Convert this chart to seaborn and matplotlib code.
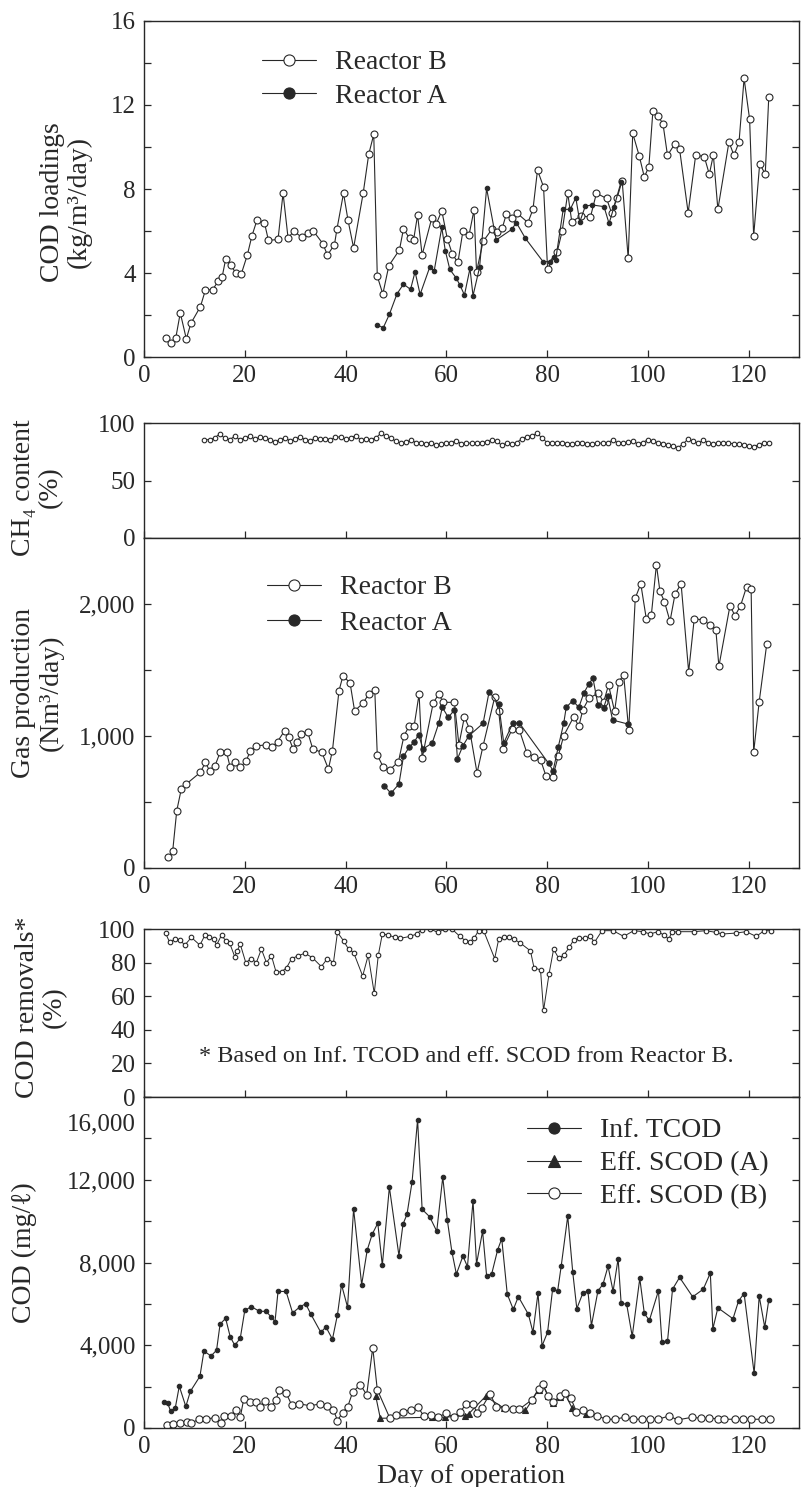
import matplotlib
matplotlib.use("Agg")
import matplotlib.pyplot as plt
import seaborn as sns
from matplotlib.transforms import ScaledTranslation

# ---------------- data ----------------
load_b_day = [4.3, 5.4, 6.3, 7.2, 8.4, 9.3, 11.2, 12.2, 13.6, 14.7, 15.5, 16.2, 17.2, 18.2, 19.3,
              20.5, 21.4, 22.4, 23.9, 24.7, 26.6, 27.6, 28.6, 29.7, 31.3, 32.5, 33.6, 35.5, 36.4, 37.8,
              38.3, 39.6, 40.5, 41.6, 43.5, 44.6, 45.6, 46.3, 47.4, 48.6, 50.7, 51.5, 52.7, 53.5, 54.3,
              55.2, 57.1, 58.0, 59.1, 60.2, 61.2, 62.3, 63.3, 64.5, 65.5, 66.0, 67.3, 69.1, 70.1, 71.1,
              71.9, 73.0, 74.1, 76.2, 77.2, 78.1, 79.3, 80.1, 82.0, 83.0, 84.1, 84.9, 86.8, 88.6, 89.8,
              91.8, 92.8, 93.9, 94.9, 96.1, 97.0, 98.3, 99.3, 100.2, 101.0, 102.0, 103.0, 103.9, 105.3,
              106.3, 108.0, 109.5, 111.2, 112.2, 113.0, 113.9, 116.1, 117.1, 118.1, 119.1, 120.2, 121.0,
              122.2, 123.3, 124.0]
load_b = [0.9, 0.67, 0.9, 2.1, 0.86, 1.6, 2.4, 3.2, 3.2, 3.6, 3.8, 4.65, 4.4, 4.0, 3.95,
          4.85, 5.75, 6.5, 6.4, 5.55, 5.6, 7.8, 5.65, 6.0, 5.7, 5.9, 6.0, 5.4, 4.85, 5.35,
          6.1, 7.8, 6.5, 5.2, 7.8, 9.65, 10.6, 3.85, 3.0, 4.35, 5.1, 6.1, 5.65, 5.57, 6.76,
          4.86, 6.6, 6.33, 6.97, 5.63, 4.9, 4.5, 6.0, 5.8, 7.0, 4.06, 5.5, 6.1, 5.94, 6.13,
          6.8, 6.6, 6.84, 6.4, 7.03, 8.9, 8.1, 4.2, 5.0, 6.0, 7.8, 6.45, 6.72, 6.66, 7.8,
          7.55, 6.87, 7.58, 8.4, 4.7, 10.65, 9.57, 8.57, 9.06, 11.71, 11.48, 11.11, 9.6, 10.13,
          9.89, 6.87, 9.62, 9.54, 8.7, 9.62, 7.03, 10.24, 9.6, 10.24, 13.27, 11.32, 5.76,
          9.21, 8.7, 12.38]

load_a_day = [46.2, 47.5, 48.7, 50.2, 51.5, 52.9, 53.8, 54.8, 56.7, 57.6, 59.1, 59.8, 60.7, 61.9,
              62.7, 63.6, 64.7, 65.3, 66.6, 68.0, 69.9, 73.0, 73.9, 75.7, 79.2, 80.5, 81.3, 81.7,
              83.2, 84.6, 85.7, 86.5, 87.6, 89.0, 91.3, 92.3, 93.3, 94.7]
load_a = [1.52, 1.4, 2.03, 3.0, 3.47, 3.22, 4.06, 2.98, 4.27, 4.11, 6.17, 5.06, 4.17, 3.78,
          3.43, 2.95, 4.22, 2.92, 4.27, 8.03, 5.57, 6.08, 6.4, 5.65, 4.54, 4.54, 4.78, 4.62,
          7.03, 7.03, 7.58, 6.44, 7.19, 7.24, 7.16, 6.36, 7.16, 8.35]

ch4_day = list(range(12, 125))
ch4 = [85.5, 85.5, 87, 90.5, 87, 85.5, 88.5, 85.5, 87, 88.5, 86, 87.5, 87, 85.5, 83.5, 85.5,
       87, 84.5, 86, 88, 85.5, 84.5, 87, 86, 86.5, 85.5, 87.5, 88, 86, 87, 89, 85.5, 86, 85.5,
       87, 91, 88.5, 87,
       84, 82.5, 83.5, 85, 83, 82.5, 82, 83, 80.5, 82, 82.5, 83, 84.5, 82, 82.5, 82.5, 82.5,
       83, 83.5, 85, 84.5, 80.5, 82.5, 81.5, 83, 86.5, 88, 89, 91, 87, 83, 82.5, 82.5, 83,
       82, 82, 82.5, 82.5, 82, 82, 82.5, 82.5, 83, 85, 83, 82.5, 83.5, 84, 82, 83, 85.5, 84,
       83, 82, 81, 80, 78.5, 82, 86, 84, 82.5, 85, 83, 81.5, 82.5, 83, 82.5, 82, 82, 81, 80,
       79.5, 81, 82.5, 82.5]

gas_b_day = [4.8, 5.7, 6.5, 7.4, 8.4, 11.2, 12.2, 13.0, 14.1, 15.1, 16.4, 17.1, 18.1, 19.1, 20.3,
             21.1, 22.3, 24.2, 25.4, 26.5, 27.9, 28.7, 29.6, 30.4, 31.2, 32.5, 33.5, 35.3, 36.6,
             37.4, 38.7, 39.5, 40.9, 41.8, 43.5, 44.6, 45.8, 46.3, 47.5, 48.8, 50.5, 51.6, 52.6,
             53.6, 54.6, 55.2, 57.4, 58.5, 59.4, 61.6, 62.5, 63.6, 64.6, 66.1, 67.3, 69.6, 70.4,
             71.2, 73.1, 74.5, 76.0, 77.4, 78.7, 79.8, 81.1, 82.2, 83.3, 85.3, 86.3, 87.1, 88.3,
             90.2, 91.2, 92.2, 93.4, 94.2, 95.2, 96.2, 97.5, 98.6, 99.7, 100.7, 101.7, 102.4,
             103.3, 104.4, 105.4, 106.6, 108.1, 109.2, 111.0, 112.3, 113.5, 114.1, 116.3, 117.3,
             118.4, 119.6, 120.5, 121.0, 122.1, 123.6]
gas_b = [80, 130, 434, 598, 636, 725, 801, 737, 775, 876, 876, 763, 801, 763, 813,
         888, 926, 932, 914, 957, 1040, 990, 902, 952, 1015, 1028, 902, 876, 750,
         889, 1343, 1457, 1401, 1190, 1250, 1318, 1351, 856, 763, 745, 805, 1002, 1073,
         1073, 1318, 831, 1250, 1318, 1255, 1255, 934, 1146, 1053, 720, 926, 1293, 1187,
         902, 1053, 1045, 871, 843, 820, 695, 686, 846, 1002, 1146, 1073, 1199, 1285,
         1326, 1255, 1386, 1187, 1411, 1462, 1045, 2045, 2152, 1886, 1919, 2298, 2096,
         2017, 1869, 2076, 2152, 1487, 1886, 1881, 1841, 1803, 1528, 1987, 1911,
         1987, 2131, 2114, 876, 1260, 1697]

gas_a_day = [47.7, 49.0, 50.6, 51.5, 52.6, 53.6, 54.5, 55.4, 57.2, 58.5, 59.2, 60.4, 61.6, 62.2,
             63.3, 64.5, 67.3, 68.5, 70.4, 71.4, 73.2, 74.5, 80.3, 81.2, 82.2, 83.3, 83.8, 85.1,
             86.3, 87.3, 88.3, 89.1, 90.1, 91.2, 92.0, 93.0, 96.0]
gas_a = [623, 566, 636, 846, 914, 952, 1010, 902, 947, 1096, 1217, 1141, 1197, 826,
         926, 1002, 1096, 1336, 1242, 947, 1098, 1098, 793, 737, 914, 1096, 1217, 1268,
         1217, 1326, 1394, 1439, 1235, 1210, 1306, 1121, 1091]

rem_day = [4.3, 5.1, 6.1, 7.1, 8.1, 9.4, 11.1, 12.1, 12.9, 13.9, 14.4, 15.4, 16.2, 17.0, 18.0,
           18.5, 19.1, 20.2, 21.3, 22.3, 23.3, 24.3, 25.3, 26.2, 27.3, 28.3, 29.3, 30.6, 31.9,
           33.4, 35.2, 36.4, 37.6, 38.4, 39.6, 40.6, 41.6, 43.4, 44.5, 45.7, 46.5, 47.3, 48.5,
           49.8, 50.8, 52.8, 54.1, 55.1, 56.8, 58.3, 59.8, 61.1, 62.7, 63.8, 64.7, 65.5, 66.4,
           67.4, 69.6, 70.4, 71.4, 72.4, 73.4, 74.7, 76.7, 77.4, 78.7, 79.3, 80.4, 81.3, 82.3,
           83.3, 84.4, 85.3, 86.3, 87.5, 88.6, 89.4, 90.9, 93.1, 95.2, 97.2, 99.1, 100.4, 102.0,
           103.2, 104.2, 104.7, 106.0, 109.2, 111.5, 113.5, 114.8, 117.5, 119.5, 121.5, 123.1,
           124.5]
rem = [97.4, 92, 94, 93.6, 90.4, 95, 90.4, 96.4, 95, 94, 90.4, 96.4, 93, 91.6, 83.6,
       87, 91, 80, 82.4, 80, 88, 80, 84, 74.5, 74.5, 77, 82.4, 84, 85.6,
       83, 77.6, 82.4, 80, 98, 93, 88, 86, 72, 84.4, 61.7, 84.4, 97, 96.4,
       95, 94.4, 95.6, 97, 99.6, 100, 98, 100, 100, 95.6, 93, 92.4, 94.4, 99,
       99, 82.4, 94, 95, 95, 94, 91.6, 87, 77, 75.6, 51.5, 73.5, 88, 82.6,
       84.4, 89, 93.6, 94.4, 94.4, 95.6, 92, 99, 99, 95.6, 99, 98.4, 97, 98.4,
       96.4, 94, 98, 98.4, 98.4, 99, 98, 97, 97.6, 98.4, 95.6, 99, 99]

inf_day = [4.0, 4.7, 5.3, 6.2, 7.0, 8.3, 9.2, 11.1, 11.9, 13.3, 14.4, 15.1, 16.2, 17.1, 18.0,
           19.1, 20.0, 21.3, 22.9, 24.2, 25.2, 26.0, 26.6, 28.2, 29.5, 31.0, 32.1, 33.1, 35.1,
           36.1, 37.4, 38.4, 39.2, 40.4, 41.6, 43.2, 44.3, 45.3, 46.4, 47.3, 48.7, 50.6, 51.4,
           52.2, 53.2, 54.3, 55.2, 56.7, 58.1, 59.3, 60.2, 61.1, 62.0, 63.3, 64.2, 65.3, 66.0,
           67.2, 68.0, 69.0, 70.2, 71.0, 72.1, 73.3, 74.3, 76.3, 77.2, 78.2, 79.0, 80.1, 81.1,
           82.1, 82.8, 84.1, 85.1, 85.9, 87.1, 88.1, 88.8, 90.1, 91.1, 92.1, 93.1, 94.1, 94.7,
           95.8, 96.9, 98.4, 99.3, 100.3, 102.1, 102.8, 103.9, 104.9, 106.3, 108.9, 111.0,
           112.4, 112.9, 113.9, 116.9, 118.0, 119.1, 121.1, 122.1, 123.2, 124.0]
inf_tcod = [1240, 1200, 800, 960, 2020, 1040, 1770, 2500, 3720, 3480, 3760, 5020, 5300, 4420, 4000,
            4330, 5680, 5870, 5640, 5640, 5380, 5140, 6600, 6600, 5560, 5870, 6000, 5510, 4620,
            4890, 4290, 5480, 6930, 5840, 10590, 6930, 8600, 9370, 9900, 7870, 11640, 8330, 9850,
            10330, 11890, 14900, 10570, 10210, 9510, 12130, 10050, 8530, 7440, 8310, 7800, 10980, 7930,
            9510, 7360, 7440, 8620, 9150, 6470, 5730, 6350, 5490, 4630, 6520, 3970, 4630, 6710,
            6630, 7820, 10240, 7520, 5770, 6520, 6630, 4950, 6630, 6950, 7820, 6610, 8180, 6030,
            5980, 4430, 7230, 5540, 5200, 6630, 4140, 4190, 6710, 7280, 6340, 6710,
            7490, 4790, 5810, 5280, 6140, 6500, 2640, 6380, 4870, 6190]

effb_day = [4.5, 5.8, 7.1, 8.5, 9.3, 10.9, 12.3, 14.0, 15.2, 15.9, 17.2, 18.2, 19.1, 19.8, 21.1,
            22.2, 23.0, 24.0, 25.2, 26.2, 26.8, 28.2, 29.3, 30.8, 33.0, 35.0, 36.3, 37.6, 38.4,
            39.4, 40.4, 41.4, 42.9, 44.2, 45.4, 46.3, 48.8, 50.1, 51.5, 52.9, 54.4, 55.5, 56.9,
            58.4, 59.9, 61.5, 62.8, 64.0, 65.3, 66.1, 67.0, 68.7, 69.9, 71.6, 73.3, 74.5, 77.0,
            78.3, 79.1, 80.2, 81.2, 82.5, 83.5, 84.7, 85.8, 87.1, 88.6, 90.0, 91.7, 93.4, 95.4,
            97.1, 98.8, 100.5, 102.1, 104.2, 105.9, 108.8, 110.5, 112.2, 113.9, 115.1, 117.2,
            118.8, 120.5, 122.6, 124.3]
eff_scod_b = [146, 179, 228, 309, 228, 423, 423, 504, 260, 602, 585, 878, 520, 1398, 1252,
              1252, 1008, 1285, 1008, 1366, 1821, 1691, 1122, 1171, 1073, 1171, 1041, 878, 358,
              748, 1008, 1724, 2098, 1610, 3886, 1854, 472, 634, 797, 878, 1008, 585, 634,
              520, 715, 520, 797, 1171, 1171, 715, 959, 1658, 1008, 959, 910, 910, 1366,
              1886, 2146, 1561, 1236, 1528, 1691, 1447, 797, 878, 715, 585, 423, 423, 520,
              423, 423, 423, 423, 585, 390, 520, 472, 472, 450, 423, 423,
              423, 423, 423, 423]

effa_day = [46.0, 46.9, 57.1, 59.7, 63.8, 64.5, 67.8, 71.5, 75.7, 77.0, 78.3, 79.1, 80.2, 81.2,
            82.5, 83.5, 85.0, 87.7]
eff_scod_a = [1530, 470, 520, 520, 600, 700, 1530, 950, 850, 1330, 1860, 2120, 1540, 1220,
              1510, 1670, 950, 700]

x_ticks = [0, 20, 40, 60, 80, 100, 120]

# ---------------- style ----------------
sns.set_style("ticks")
INK = "#282828"
plt.rcParams["font.family"] = ["Liberation Serif", "DejaVu Serif"]
plt.rcParams.update({
    "text.color": INK, "axes.labelcolor": INK, "xtick.color": INK, "ytick.color": INK,
    "axes.edgecolor": INK, "axes.linewidth": 1.0,
})

W, H = 801, 1487
fig = plt.figure(figsize=(W / 100, H / 100), dpi=100)


def add_ax(top, bottom, left=144, right=799):
    return fig.add_axes([left / W, 1 - bottom / H, (right - left) / W, (bottom - top) / H])


ax1 = add_ax(21, 357)
ax2 = add_ax(423, 538)
ax3 = add_ax(538, 868)
ax4 = add_ax(929, 1097)
ax5 = add_ax(1097, 1428)


def draw(ax, x, y, marker, filled, ms, label=None, lw=0.8):
    sns.lineplot(x=x, y=y, ax=ax, estimator=None, sort=False, color=INK, linewidth=lw,
                 marker=marker, markersize=ms,
                 markerfacecolor=INK if filled else "white", markeredgecolor=INK,
                 markeredgewidth=0.8, label=label)


def setup(ax, ylim, major, labels, minor=(), xlabels=True):
    ax.set_xlim(0, 130)
    ax.set_ylim(*ylim)
    ax.set_xticks(x_ticks)
    ax.set_xticklabels([str(t) for t in x_ticks] if xlabels else [])
    ax.set_yticks(major)
    ax.set_yticklabels(labels)
    ax.set_yticks(list(minor), minor=True)
    ax.tick_params(axis="both", which="both", direction="in", labelsize=18, pad=6, width=0.9)
    ax.tick_params(axis="y", which="both", left=True, right=True, length=5)
    ax.tick_params(axis="x", which="both", bottom=True, top=False, length=5)
    ax.set_xlabel("")
    ax.set_ylabel("")
    for s in ax.spines.values():
        s.set_linewidth(1.0)
        s.set_color(INK)


def ylabel(ax, text, xc, yc):
    ax.set_ylabel(text, fontsize=20, linespacing=1.1, va="center", ha="center")
    ax.yaxis.set_label_coords(xc, yc)


def legend(ax, x, y, spacing):
    leg = ax.legend(loc="upper left", bbox_to_anchor=(x, y), frameon=False, fontsize=20,
                    handlelength=1.95, handletextpad=0.68, labelspacing=spacing,
                    borderpad=0, borderaxespad=0)
    for hd in leg.legend_handles:
        hd.set_markersize(8)


# Panel 1: COD loadings
draw(ax1, load_b_day, load_b, "o", False, 5.0, "Reactor B")
draw(ax1, load_a_day, load_a, "o", True, 3.2, "Reactor A")
setup(ax1, (0, 16), [0, 4, 8, 12, 16], ["0", "4", "8", "12", "16"], minor=[2, 6, 10, 14])
ylabel(ax1, "COD loadings\n(kg/m³/day)", -0.119, 0.46)
legend(ax1, 0.18, 0.914, 0.3)

# Panel 2: CH4 content
draw(ax2, ch4_day, ch4, "o", False, 3.3, lw=0.7)
setup(ax2, (0, 100), [0, 50, 100], ["0", "50", "100"], xlabels=False)
ylabel(ax2, "CH₄ content\n(%)", -0.163, 0.44)

# Panel 3: Gas production
draw(ax3, gas_b_day, gas_b, "o", False, 5.0, "Reactor B")
draw(ax3, gas_a_day, gas_a, "o", True, 3.8, "Reactor A")
setup(ax3, (0, 2500), [0, 1000, 2000], ["0", "1,000", "2,000"], minor=[500, 1500])
ylabel(ax3, "Gas production\n(Nm³/day)", -0.163, 0.53)
legend(ax3, 0.188, 0.888, 0.35)

# Panel 4: COD removals
draw(ax4, rem_day, rem, "o", False, 3.3, lw=0.7)
setup(ax4, (0, 100), [0, 20, 40, 60, 80, 100], ["0", "20", "40", "60", "80", "100"],
      xlabels=False)
ylabel(ax4, "COD removals*\n(%)", -0.157, 0.536)
ax4.text(10.9, 24, "* Based on Inf. TCOD and eff. SCOD from Reactor B.",
         fontsize=17.5, va="center", ha="left", color=INK)

# Panel 5: COD
draw(ax5, inf_day, inf_tcod, "o", True, 3.2, "Inf. TCOD")
draw(ax5, effa_day, eff_scod_a, "^", True, 4.0, "Eff. SCOD (A)")
draw(ax5, effb_day, eff_scod_b, "o", False, 5.2, "Eff. SCOD (B)")
setup(ax5, (0, 16000), [0, 4000, 8000, 12000, 16000],
      ["0", "4,000", "8,000", "12,000", "16,000"], minor=[2000, 6000, 10000, 14000])
ylabel(ax5, "COD (mg/ℓ)", -0.182, 0.53)
legend(ax5, 0.585, 0.937, 0.27)
ax5.set_xlabel("Day of operation", fontsize=20, labelpad=4)

for lab in ax5.get_yticklabels():
    if lab.get_text() == "16,000":
        lab.set_transform(lab.get_transform() + ScaledTranslation(0, -18 / 72, fig.dpi_scale_trans))

fig.savefig("out.png", dpi=100)
